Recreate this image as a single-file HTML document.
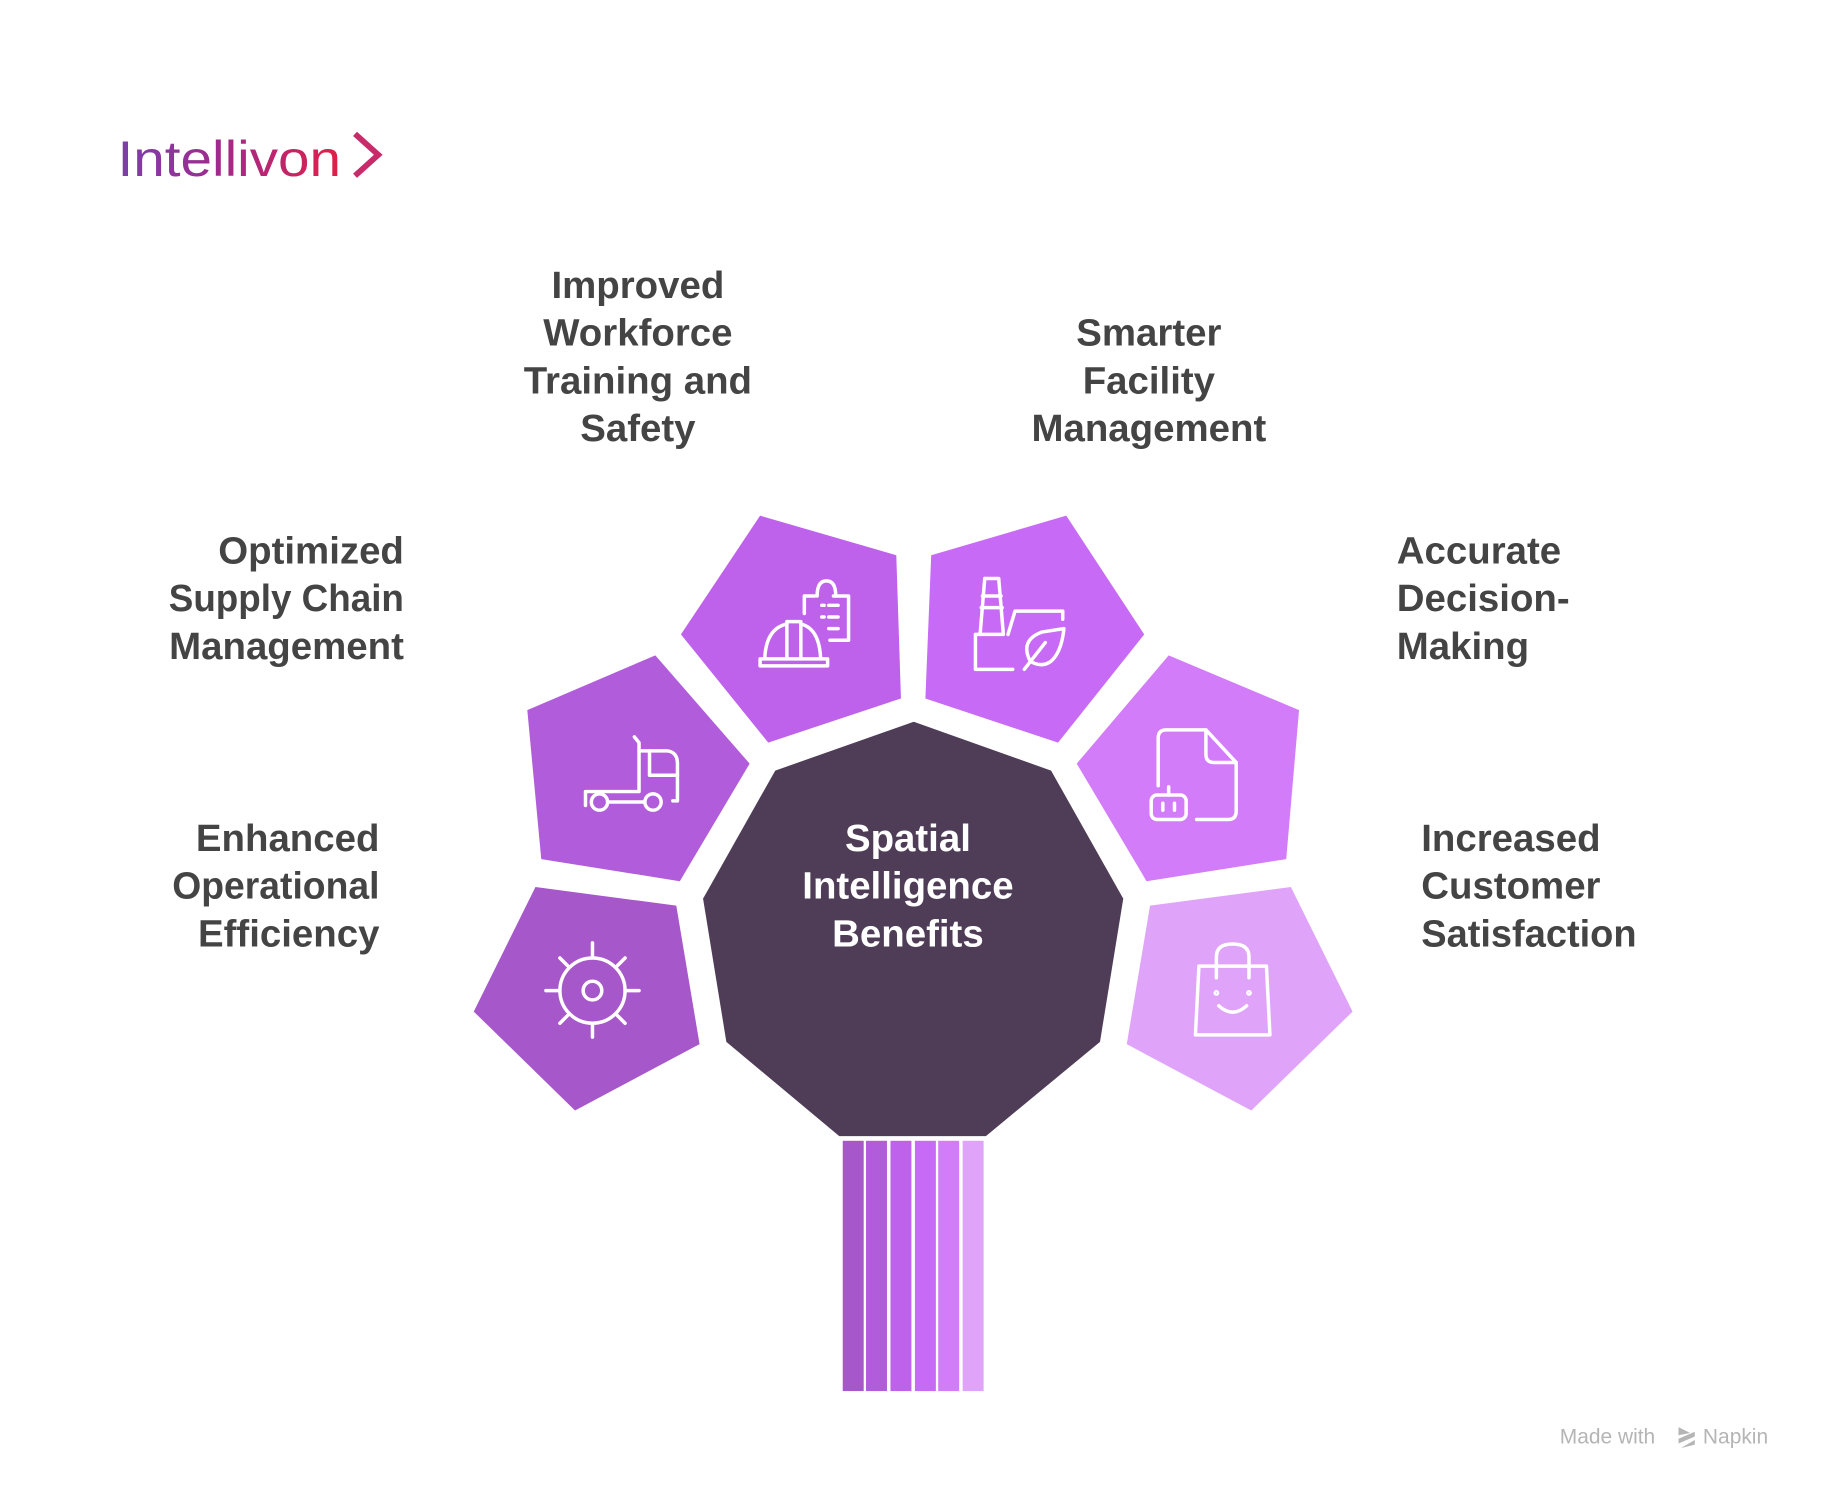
<!DOCTYPE html>
<html><head><meta charset="utf-8"><style>
html,body{margin:0;padding:0;background:#fff;}
svg{display:block;}
text{font-family:"Liberation Sans",Arial,sans-serif;}
</style></head><body>
<svg width="1824" height="1490" viewBox="0 0 1567 1280" preserveAspectRatio="none" xmlns="http://www.w3.org/2000/svg">
<defs>
<linearGradient id="lg" x1="0" x2="1" y1="0" y2="0">
<stop offset="0" stop-color="#7a3fae"/><stop offset="0.45" stop-color="#a02a8c"/><stop offset="1" stop-color="#e02048"/>
</linearGradient>
</defs>
<text x="101" y="151" font-size="43" fill="url(#lg)" textLength="192" lengthAdjust="spacingAndGlyphs">Intellivon</text>
<polyline points="305,115 325,133 305,151" fill="none" stroke="#c82a6a" stroke-width="5" stroke-linejoin="miter"/>

<polygon points="785,620 903,662 965,772 945,895 847,976 721,976 624,895 604,772 666,662" fill="#4f3d57"/>
<polygon points="460,762 581,778 601,897 494,954 407,869" fill="#a657c9"/>
<polygon points="453,610 563,563 644,656 584,757 465,738" fill="#b05cdb"/>
<polygon points="585,545 653,443 770,477 774,600 660,638" fill="#bf62eb"/>
<polygon points="800,477 916,443 983,545 909,638 795,600" fill="#c76af5"/>
<polygon points="925,656 1004,563 1116,610 1105,738 985,757" fill="#d27cf9"/>
<polygon points="988,778 1109,762 1162,869 1075,954 968,897" fill="#dfa3f9"/>
<rect x="724" y="980" width="18" height="215" fill="#a657c9"/>
<rect x="744" y="980" width="18" height="215" fill="#b05cdb"/>
<rect x="765" y="980" width="18" height="215" fill="#bf62eb"/>
<rect x="786" y="980" width="18" height="215" fill="#c76af5"/>
<rect x="806" y="980" width="18" height="215" fill="#d27cf9"/>
<rect x="827" y="980" width="18" height="215" fill="#dfa3f9"/>

<g fill="none" stroke="#fff" stroke-width="3" stroke-linecap="round" stroke-linejoin="round">
<circle cx="509" cy="851" r="28"/><circle cx="509" cy="851" r="8"/>
<line x1="509" y1="810" x2="509" y2="822"/><line x1="509" y1="880" x2="509" y2="891"/>
<line x1="469" y1="851" x2="481" y2="851"/><line x1="537" y1="851" x2="549" y2="851"/>
<line x1="481" y1="823" x2="488" y2="830"/><line x1="537" y1="823" x2="530" y2="830"/>
<line x1="481" y1="879" x2="488" y2="872"/><line x1="537" y1="879" x2="530" y2="872"/>
<path d="M545,633 L549,638 L549,680 L503,680 L503,692"/>
<path d="M549,645 L573,645 Q582,646 582,656 L582,688 L578,688"/>
<path d="M558,645 L558,666 L582,666"/>
<circle cx="515" cy="689" r="7"/><circle cx="561" cy="689" r="7"/>
<line x1="522" y1="689" x2="554" y2="689"/>
<path d="M653,572 L711,572 L711,566 L653,566 Z"/>
<path d="M657,566 Q658,540 676,536 M688,536 Q704,540 705,566"/>
<path d="M676,566 L676,534 L688,534 L688,566"/>
<path d="M700,512 L691,512 L691,527 M716,512 L729,512 L729,550 L713,550"/>
<path d="M702,512 Q702,499 710,499 Q718,499 718,512"/>
<line x1="706" y1="520" x2="708" y2="520"/><line x1="712" y1="520" x2="720" y2="520"/>
<line x1="706" y1="530" x2="708" y2="530"/><line x1="712" y1="530" x2="720" y2="530"/>
<line x1="712" y1="540" x2="720" y2="540"/>
<path d="M846,497 L858,497 L862,545 L838,545 L838,575 L870,575"/>
<path d="M846,497 L842,545"/><line x1="844" y1="512" x2="860" y2="512"/><line x1="843" y1="522" x2="861" y2="522"/>
<path d="M866,545 L872,525 L913,525 L913,532"/>
<path d="M885,568 Q876,550 895,543 L914,540 Q912,560 903,568 Q895,574 885,568 Z"/>
<path d="M880,575 L898,552"/>
<path d="M995,675 L995,634 Q995,627 1002,627 L1036,627 L1062,655 L1062,697 Q1062,704 1055,704 L1028,704"/>
<path d="M1036,627 L1036,648 Q1036,655 1043,655 L1062,655"/>
<rect x="989" y="683" width="30" height="21" rx="5"/>
<line x1="1004" y1="676" x2="1004" y2="683"/>
<line x1="999" y1="690" x2="999" y2="696"/><line x1="1009" y1="690" x2="1009" y2="696"/>
<path d="M1030,830 L1088,830 L1091,889 L1027,889 Z"/>
<path d="M1045,840 L1045,822 Q1045,811 1059,811 Q1073,811 1073,822 L1073,840"/>
<circle cx="1045" cy="853" r="1"/><circle cx="1073" cy="853" r="1"/>
<path d="M1047,864 Q1059,875 1071,864"/>
</g>

<g font-size="33" font-weight="bold" fill="#444">
<g text-anchor="middle">
<text x="548" y="256">Improved</text><text x="548" y="297">Workforce</text><text x="548" y="338">Training and</text><text x="548" y="379">Safety</text>
<text x="987" y="297">Smarter</text><text x="987" y="338">Facility</text><text x="987" y="379">Management</text>
</g>
<g text-anchor="end">
<text x="347" y="484">Optimized</text><text x="347" y="525" textLength="202" lengthAdjust="spacingAndGlyphs">Supply Chain</text><text x="347" y="566">Management</text>
<text x="326" y="731">Enhanced</text><text x="326" y="772" textLength="178" lengthAdjust="spacingAndGlyphs">Operational</text><text x="326" y="813">Efficiency</text>
</g>
<text x="1200" y="484">Accurate</text><text x="1200" y="525">Decision-</text><text x="1200" y="566">Making</text>
<text x="1221" y="731">Increased</text><text x="1221" y="772">Customer</text><text x="1221" y="813" textLength="185" lengthAdjust="spacingAndGlyphs">Satisfaction</text>
<g text-anchor="middle" fill="#fff">
<text x="780" y="731">Spatial</text><text x="780" y="772">Intelligence</text><text x="780" y="813">Benefits</text>
</g>
</g>
<text x="1340" y="1240" font-size="18" fill="#b5b5b5">Made with</text>
<g fill="#b5b5b5"><polygon points="1442,1226 1452,1231 1442,1233"/><polygon points="1442,1236 1456,1230 1456,1234 1442,1240"/><polygon points="1444,1244 1456,1237 1456,1241"/></g>
<text x="1463" y="1240" font-size="18" fill="#b5b5b5">Napkin</text>
</svg>
</body></html>
